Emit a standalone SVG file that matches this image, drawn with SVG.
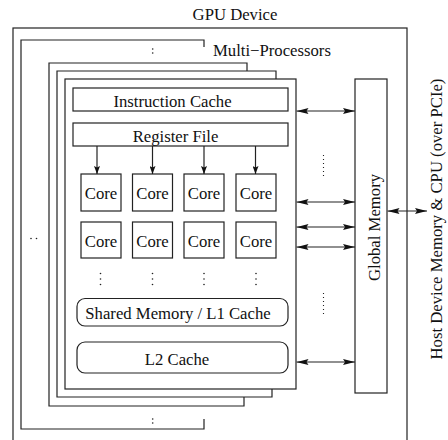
<svg xmlns="http://www.w3.org/2000/svg" width="448" height="440" viewBox="0 0 448 440" font-family="'Liberation Serif', 'Times New Roman', 'DejaVu Serif', serif">
<defs>
<style>
text{font-family:'Liberation Serif','Times New Roman','DejaVu Serif',serif;font-size:16.7px;fill:#111}
.box{fill:#fff;stroke:#222;stroke-width:1.2}
.ln{fill:none;stroke:#222;stroke-width:1.2}
.c{text-anchor:middle}
.dot{fill:#222}
.dotted{stroke:#222;stroke-width:1.1;stroke-dasharray:1 3}
.arr{stroke:#222;stroke-width:1.2;fill:none;marker-end:url(#ah);marker-start:url(#ah)}
.down{stroke:#222;stroke-width:1.2;fill:none;marker-end:url(#ahs)}
</style>
<marker id="ah" viewBox="0 0 12 6" refX="12" refY="3" markerWidth="12" markerHeight="6" markerUnits="userSpaceOnUse" orient="auto-start-reverse">
<path d="M0,0 L12,3 L0,6 L2,3 z" fill="#111"/>
</marker>
<marker id="ahs" viewBox="0 0 8 6" refX="8" refY="3" markerWidth="8" markerHeight="6" markerUnits="userSpaceOnUse" orient="auto">
<path d="M0,0 L8,3 L0,6 L1.5,3 z" fill="#111"/>
</marker>
</defs>
<rect width="448" height="440" fill="#fff"/>

<g id="gpu-device">
<rect class="ln" x="13" y="28" width="394" height="420"/>
<text class="c" x="235" y="20">GPU Device</text>
</g>

<g id="multi-processors">
<path class="ln" d="M204,47 V40 H21 V429 H204 V419"/>
<circle class="dot" cx="152.7" cy="49" r="0.8"/>
<circle class="dot" cx="152.7" cy="53" r="0.8"/>
<circle class="dot" cx="152.7" cy="419" r="0.8"/>
<circle class="dot" cx="152.7" cy="423" r="0.8"/>
<circle class="dot" cx="31" cy="238.5" r="0.8"/>
<circle class="dot" cx="36.5" cy="238.5" r="0.8"/>
<text x="213" y="56">Multi−Processors</text>
<path class="ln" d="M247,71 V63 H49 V406 H244 V397"/>
<path class="ln" d="M276,79 V71 H57 V397 H272 V389"/>
<rect class="box" x="65" y="79" width="231" height="310"/>
</g>

<g id="instruction-cache">
<rect class="box" x="73" y="88" width="215" height="23"/>
<text class="c" x="172.5" y="106.5">Instruction Cache</text>
</g>

<g id="register-file">
<rect class="box" x="73" y="123" width="215" height="23"/>
<text class="c" x="175.5" y="142">Register File</text>
</g>

<g id="core-1"><rect class="box" x="81" y="174" width="40" height="37"/><text class="c" x="101" y="199">Core</text></g>
<g id="core-2"><rect class="box" x="132.5" y="174" width="40" height="37"/><text class="c" x="152.5" y="199">Core</text></g>
<g id="core-3"><rect class="box" x="184" y="174" width="40" height="37"/><text class="c" x="204" y="199">Core</text></g>
<g id="core-4"><rect class="box" x="236" y="174" width="40" height="37"/><text class="c" x="256" y="199">Core</text></g>
<g id="core-5"><rect class="box" x="81" y="222" width="40" height="36"/><text class="c" x="101" y="247">Core</text></g>
<g id="core-6"><rect class="box" x="132.5" y="222" width="40" height="36"/><text class="c" x="152.5" y="247">Core</text></g>
<g id="core-7"><rect class="box" x="184" y="222" width="40" height="36"/><text class="c" x="204" y="247">Core</text></g>
<g id="core-8"><rect class="box" x="236" y="222" width="40" height="36"/><text class="c" x="256" y="247">Core</text></g>

<g id="core-ellipsis">
<circle class="dot" cx="100.5" cy="273.5" r="0.8"/><circle class="dot" cx="100.5" cy="279" r="0.8"/><circle class="dot" cx="100.5" cy="284.5" r="0.8"/>
<circle class="dot" cx="152.5" cy="273.5" r="0.8"/><circle class="dot" cx="152.5" cy="279" r="0.8"/><circle class="dot" cx="152.5" cy="284.5" r="0.8"/>
<circle class="dot" cx="204" cy="273.5" r="0.8"/><circle class="dot" cx="204" cy="279" r="0.8"/><circle class="dot" cx="204" cy="284.5" r="0.8"/>
<circle class="dot" cx="256" cy="273.5" r="0.8"/><circle class="dot" cx="256" cy="279" r="0.8"/><circle class="dot" cx="256" cy="284.5" r="0.8"/>
</g>

<g id="shared-memory">
<rect class="box" x="77" y="298.5" width="211" height="27.5" rx="8"/>
<text class="c" x="178" y="318.5">Shared Memory / L1 Cache</text>
</g>

<g id="l2-cache">
<rect class="box" x="77" y="342" width="211" height="31" rx="8"/>
<text class="c" x="177" y="365">L2 Cache</text>
</g>

<g id="global-memory">
<rect class="box" x="355" y="79" width="32" height="314"/>
<text class="c" transform="translate(380,227.5) rotate(-90)">Global Memory</text>
</g>

<g id="host">
<text class="c" transform="translate(442,219) rotate(-90)">Host Device Memory &amp; CPU (over PCIe)</text>
</g>

<g id="connectors">
<line class="down" x1="97" y1="146" x2="97" y2="174"/>
<line class="down" x1="152.5" y1="146" x2="152.5" y2="174"/>
<line class="down" x1="204" y1="146" x2="204" y2="174"/>
<line class="down" x1="255.5" y1="146" x2="255.5" y2="174"/>
<line class="arr" x1="296.5" y1="111" x2="355" y2="111"/>
<line class="arr" x1="296.5" y1="202" x2="355" y2="202"/>
<line class="arr" x1="296.5" y1="227" x2="355" y2="227"/>
<line class="arr" x1="296.5" y1="247" x2="355" y2="247"/>
<line class="arr" x1="296.5" y1="362" x2="355" y2="362"/>
<line class="arr" x1="387.5" y1="211" x2="427" y2="211"/>
<line class="dotted" x1="323.5" y1="155" x2="323.5" y2="178"/>
<line class="dotted" x1="323.5" y1="293" x2="323.5" y2="317"/>
</g>
</svg>
